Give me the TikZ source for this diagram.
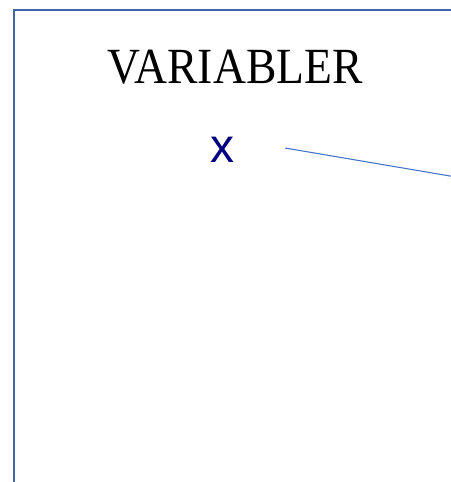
\documentclass[tikz,border=0pt]{standalone}
\usepackage{fontspec}
\usepackage{graphicx}
\newfontfamily\titlefont{Liberation Serif}
\newfontfamily\varfont{Liberation Sans}
\definecolor{frameblue}{RGB}{65,100,170}
\definecolor{lineblue}{RGB}{68,114,196}
\definecolor{navyx}{RGB}{0,0,128}
\tikzset{
  frame/.style={draw=frameblue, line width=2pt},
  link/.style={draw=lineblue, line width=0.8pt},
  title/.style={inner sep=0pt, font=\titlefont\fontsize{38}{40}\selectfont, text=black},
  varname/.style={inner sep=0pt, font=\varfont\fontsize{36}{40}\selectfont, text=navyx}
}
\begin{document}
\begin{tikzpicture}[x=0.75pt,y=-0.75pt]
\useasboundingbox (0,0) rectangle (450,482);
\draw[frame] (14,500) -- (14,10) -- (470,10);
\node[title] (t) at (235,67) {\scalebox{0.9}[1]{VARIABLER}};
\node[varname] (x) at (222,150) {x};
\coordinate (a) at (285,148);
\coordinate (b) at (470,179.4);
\draw[link] (a) -- (b);
\end{tikzpicture}
\end{document}
